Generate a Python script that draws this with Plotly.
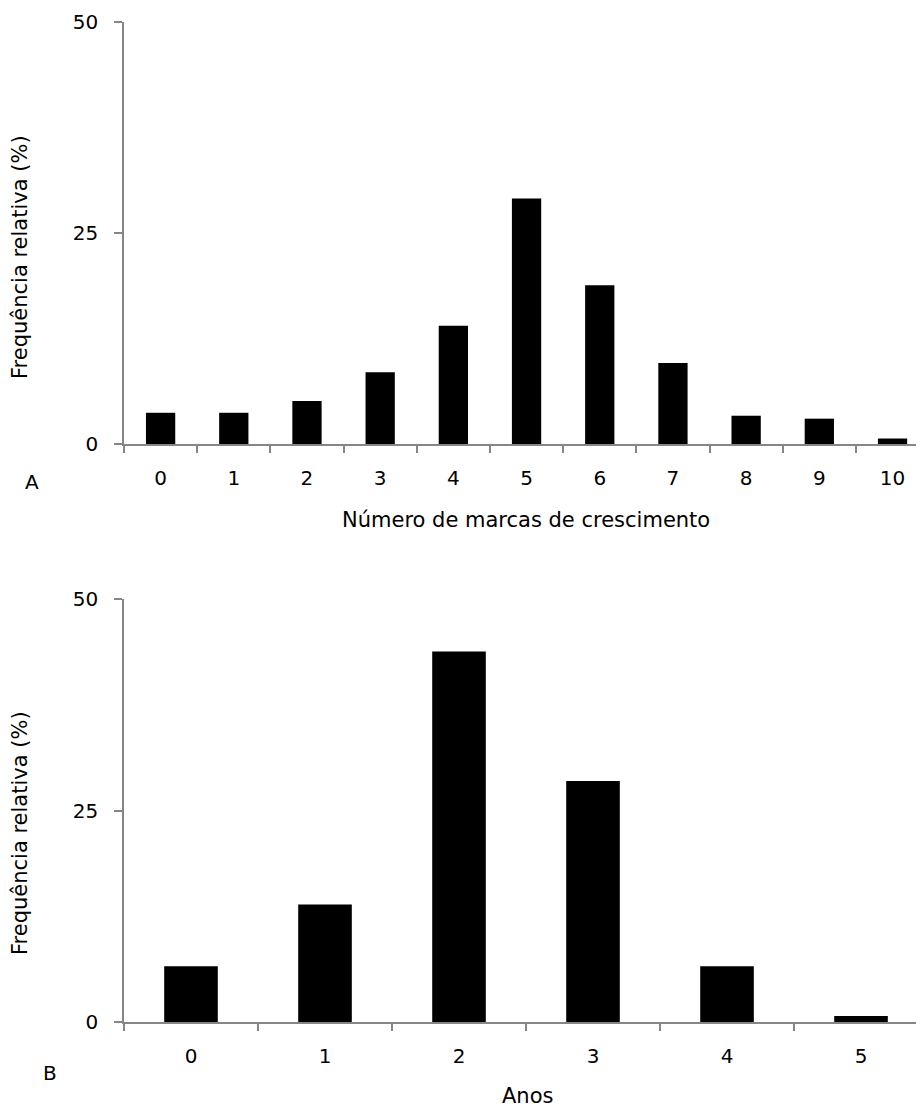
import plotly.graph_objects as go

# Panel A data
marcas = [0, 1, 2, 3, 4, 5, 6, 7, 8, 9, 10]
freq_marcas = [3.7, 3.7, 5.1, 8.5, 14.0, 29.1, 18.8, 9.6, 3.35, 3.0, 0.65]

# Panel B data
anos = [0, 1, 2, 3, 4, 5]
freq_anos = [6.6, 13.9, 43.8, 28.5, 6.6, 0.7]

yticks = [0, 25, 50]

OFF = 8  # default page body margin
W, H = 924 - OFF, 1110 - OFF
FONT = "DejaVu Sans"
AX = "#868686"
FS = 20
FT = 21


def px_x(x):
    return (x - OFF) / W


def px_y(y):
    return 1 - (y - OFF) / H


fig = go.Figure()
fig.add_trace(go.Bar(x=marcas, y=freq_marcas, width=0.4, marker=dict(color="black", line=dict(width=0)),
                     xaxis="x", yaxis="y", showlegend=False))
fig.add_trace(go.Bar(x=anos, y=freq_anos, width=0.4, marker=dict(color="black", line=dict(width=0)),
                     xaxis="x2", yaxis="y2", showlegend=False))


def xax(cats, rng, anchor):
    return dict(domain=[px_x(124), 1], range=rng, anchor=anchor, automargin=False,
                tickmode="array", tickvals=cats, ticktext=[str(c) for c in cats],
                ticks="", showline=True, linecolor=AX, linewidth=1.5,
                showgrid=False, zeroline=False,
                tickfont=dict(family=FONT, size=FS, color="black"),
                ticklabelstandoff=15,
                minor=dict(ticks="outside", ticklen=7, tickcolor=AX, tickwidth=1.5,
                           tick0=0.5, dtick=1, showgrid=False))


def yax(top, bottom, anchor):
    return dict(domain=[px_y(bottom), px_y(top)], range=[0, 50], anchor=anchor, automargin=False,
                tickmode="array", tickvals=yticks, ticks="outside", ticklen=8,
                tickcolor=AX, tickwidth=1.5, showline=True, linecolor=AX, linewidth=1.5,
                showgrid=False, zeroline=False,
                tickfont=dict(family=FONT, size=FS, color="black"),
                ticklabelstandoff=12)


fig.update_layout(
    width=W, height=H, margin=dict(l=0, r=0, t=0, b=0, pad=0, autoexpand=False),
    paper_bgcolor="white", plot_bgcolor="white",
    xaxis=xax(marcas, [-0.5, 10.43], "y"),
    yaxis=yax(22, 444, "x"),
    xaxis2=xax(anos, [-0.5, 5.47], "y2"),
    yaxis2=yax(599, 1022, "x2"),
    bargap=0.6,
)


def ann(text, x, y, angle=0, size=FT):
    fig.add_annotation(text=text, x=px_x(x), y=px_y(y), xref="paper", yref="paper",
                       showarrow=False, textangle=angle, xanchor="center", yanchor="middle",
                       font=dict(family=FONT, size=size, color="black"))


ann("Frequência relativa (%)", 20, 257, -90)
ann("Frequência relativa (%)", 20, 833, -90)
ann("Número de marcas de crescimento", 526, 520)
ann("Anos", 527, 1096)
ann("A", 32, 482, size=FS)
ann("B", 50, 1073, size=FS)

fig.write_html("out.html")
